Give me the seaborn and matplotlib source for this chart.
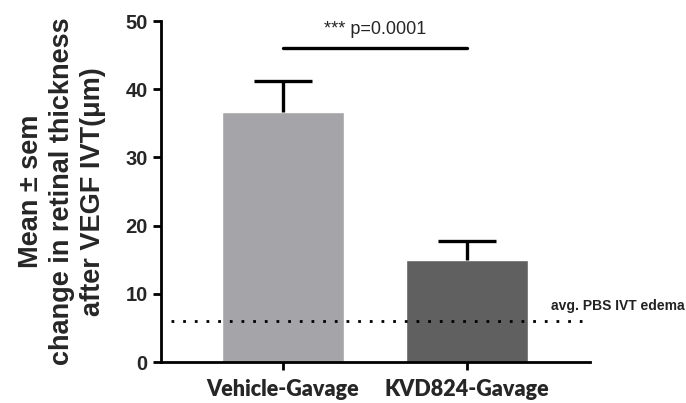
import numpy as np
import pandas as pd
import matplotlib
matplotlib.use("Agg")
import matplotlib.pyplot as plt
import seaborn as sns

# data
groups = ["Vehicle-Gavage", "KVD824-Gavage"]
means = [36.7, 14.9]
sems = [4.5, 2.8]
bar_colors = ["#a5a5a9", "#606060"]
pbs_edema = 6.0
p_text = "*** p=0.0001"
sig_y = 46.0

sns.set_style("ticks")
plt.rcParams['font.family'] = ['Liberation Sans', 'DejaVu Sans']

df = pd.DataFrame({"group": groups, "mean": means})

fig = plt.figure(figsize=(6.86, 4.03), dpi=100)
ax = fig.add_axes([0.2347, 0.1017, 0.625, 0.846])

sns.barplot(data=df, x="group", y="mean", hue="group", palette=bar_colors,
            width=0.66, legend=False, ax=ax, errorbar=None, saturation=1)

# one-sided error bars (mean + sem), hide the lower cap
eb = ax.errorbar(range(len(groups)), means, yerr=[[0] * len(sems), sems], fmt="none",
                 ecolor="black", elinewidth=2.4, capsize=21, capthick=2.4, zorder=3)
eb[1][0].set_visible(False)

# dotted reference line
ax.plot([-0.61, 1.625], [pbs_edema, pbs_edema], linestyle=(0, (1, 3.2)), color="black",
        linewidth=2, zorder=4)
ax.text(1.46, pbs_edema + 2.2, "avg. PBS IVT edema", fontsize=10, fontweight="bold",
        color="#222222", va="center", ha="left", family=["Liberation Sans Narrow", "Liberation Sans"])

# significance bar
ax.plot([0, 1], [sig_y, sig_y], color="black", linewidth=2.4)
ax.text(0.5, sig_y + 2.7, p_text, ha="center", va="center", fontsize=13, color="#262626")

ax.set_xlim(-0.663, 1.668)
ax.set_ylim(0, 50)
ax.set_yticks([0, 10, 20, 30, 40, 50])
ax.set_xlabel("")
ax.set_ylabel("Mean \u00b1 sem\nchange in retinal thickness\nafter VEGF IVT(\u03bcm)",
              fontsize=19.5, fontweight="bold", labelpad=14, linespacing=1.25)

for lab in ax.get_yticklabels():
    lab.set_fontweight("bold")
    lab.set_fontsize(14.5)
ax.set_xticks(range(len(groups)))
ax.set_xticklabels(groups, fontsize=15.5, fontweight="heavy", family=["Lato", "DejaVu Sans"])
ax.tick_params(axis="both", width=2, length=6, color="black")
ax.tick_params(axis="x", pad=6)

sns.despine(ax=ax)
for s in ["left", "bottom"]:
    ax.spines[s].set_linewidth(2)
    ax.spines[s].set_color("black")

fig.savefig("out.png", dpi=100)
